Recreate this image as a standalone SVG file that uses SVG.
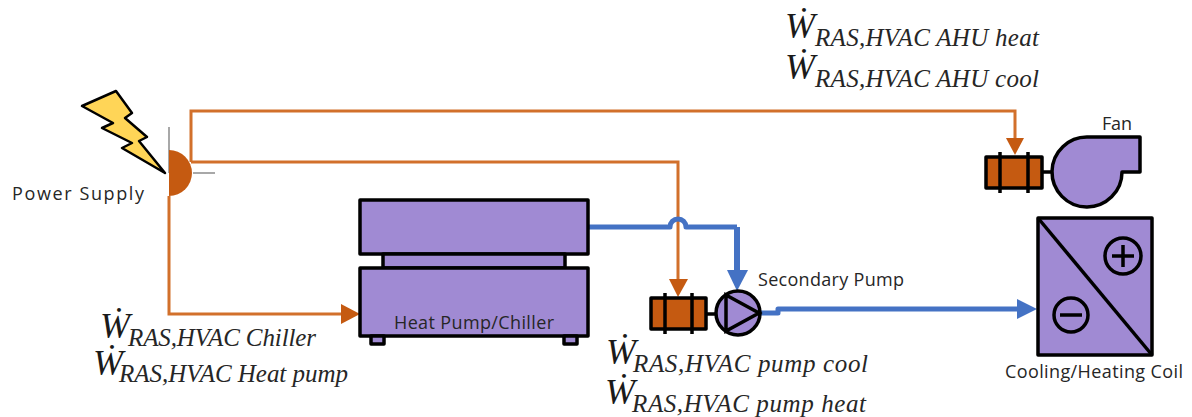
<svg xmlns="http://www.w3.org/2000/svg" width="1192" height="417" viewBox="0 0 1192 417">
<style>
.eq{fill:#A08AD3;stroke:#000;stroke-width:3.5;stroke-linejoin:round}
.mot{fill:#C55A11;stroke:#000;stroke-width:3.5;stroke-linejoin:round}
.ln{fill:none;stroke:#000;stroke-width:3.5}
.pw{fill:none;stroke:#D2702B;stroke-width:3}
.pwh{fill:#C55A11}
.wt{fill:none;stroke:#4472C4;stroke-linejoin:round}
.wth{fill:#4472C4}
.gr{fill:none;stroke:#8C8C8C;stroke-width:1.5}
.lb{font-family:"Open Sans","Liberation Sans",sans-serif;font-size:18px;fill:#262626}
.w{font-family:"Liberation Serif",serif;font-style:italic;font-size:36px;fill:#1a1a1a}
.s{font-family:"Liberation Serif",serif;font-style:italic;font-size:25px;fill:#262626}
</style>
<g id="connectors">
<path class="pw" d="M191,162V111H1015V140"/>
<path class="pw" d="M191,162H678V281"/>
<path class="pw" d="M169,196V314H343"/>
<polygon class="pwh" points="1006,138 1024,138 1015,155"/>
<polygon class="pwh" points="669,279 688,279 678,297"/>
<polygon class="pwh" points="341,304 341,324 360,314"/>
<path class="wt" stroke-width="5" d="M587,227H670A8,8 0 0 1 686,227H737"/>
<path class="wt" stroke-width="6" d="M737,227V272"/>
<polygon class="wth" points="727,270 748,270 737,291"/>
<path class="wt" stroke-width="5" d="M760,313H778V309H1019"/>
<polygon class="wth" points="1017,299 1017,319 1037,309"/>
</g>
<g id="power-supply">
<polygon points="116,91 132,113 125,118 147,137 139,141 165,173 122,148 132,143 102,128 113,123 82,106" fill="#FFD557" stroke="#000" stroke-width="2.5" stroke-linejoin="round"/>
<path class="gr" d="M169,127V173M193,173H215"/>
<path d="M169,150A23,23 0 0 1 169,196Z" fill="#C55A11"/>
<text class="lb" x="12" y="200" textLength="132">Power Supply</text>
</g>
<g id="chiller">
<rect class="eq" x="360" y="200" width="228" height="54"/>
<rect class="eq" x="383" y="254" width="182" height="14"/>
<rect class="eq" x="360" y="268" width="228" height="68"/>
<rect class="eq" x="371" y="336" width="13" height="8" stroke-width="3"/>
<rect class="eq" x="564" y="336" width="13" height="8" stroke-width="3"/>
<text class="lb" x="394" y="329" textLength="160">Heat Pump/Chiller</text>
</g>
<g id="pump-motor">
<rect class="mot" x="651" y="298" width="55" height="31"/>
<path class="ln" d="M665,293V334M692,293V334M706,314H717"/>
</g>
<g id="secondary-pump">
<circle class="eq" cx="738" cy="313" r="22"/>
<path class="ln" d="M726,295L759,313L726,331Z" stroke-width="3"/>
<text class="lb" x="758" y="286" textLength="146">Secondary Pump</text>
</g>
<g id="fan-motor">
<rect class="mot" x="986" y="157" width="56" height="31"/>
<path class="ln" d="M1000,152V193M1028,152V193M1042,172H1054"/>
</g>
<g id="fan">
<path class="eq" d="M1088,137H1140V172H1122A35,35 0 1 1 1088,137Z"/>
<text class="lb" x="1102" y="130" textLength="30">Fan</text>
</g>
<g id="coil">
<rect class="eq" x="1038" y="218" width="114" height="137"/>
<path class="ln" d="M1038,218L1152,355"/>
<circle class="ln" cx="1123" cy="256" r="18"/>
<path class="ln" d="M1112,256H1134M1123,245V267"/>
<circle class="ln" cx="1071" cy="315" r="17"/>
<path class="ln" d="M1060,315H1082"/>
<text class="lb" x="1005" y="378" textLength="178">Cooling/Heating Coil</text>
</g>
<g id="labels">
<text><tspan class="w" x="785" y="38">Ẇ</tspan><tspan class="s" x="815" y="46" textLength="224">RAS,HVAC AHU heat</tspan></text>
<text><tspan class="w" x="785" y="79">Ẇ</tspan><tspan class="s" x="815" y="87" textLength="224">RAS,HVAC AHU cool</tspan></text>
<text><tspan class="w" x="100" y="338">Ẇ</tspan><tspan class="s" x="128" y="346" textLength="188">RAS,HVAC Chiller</tspan></text>
<text><tspan class="w" x="93" y="375">Ẇ</tspan><tspan class="s" x="119" y="382" textLength="229">RAS,HVAC Heat pump</tspan></text>
<text><tspan class="w" x="606" y="364">Ẇ</tspan><tspan class="s" x="633" y="372" textLength="235">RAS,HVAC pump cool</tspan></text>
<text><tspan class="w" x="605" y="404">Ẇ</tspan><tspan class="s" x="632" y="412" textLength="234">RAS,HVAC pump heat</tspan></text>
</g>
</svg>
